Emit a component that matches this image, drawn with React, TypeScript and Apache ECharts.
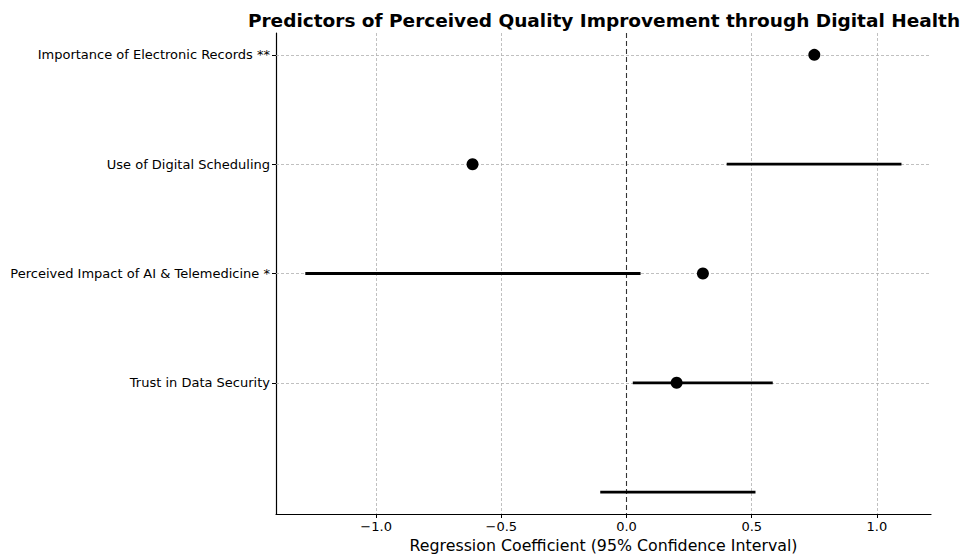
import React, { useEffect, useRef } from "react";
import * as echarts from "echarts";

const predictors = [
  "Importance of Electronic Records **",
  "Use of Digital Scheduling",
  "Perceived Impact of AI & Telemedicine *",
  "Trust in Data Security",
];
const coefficients = [0.75, -0.615, 0.305, 0.2];
const ciLower = [0.4, -1.283, 0.025, -0.105];
const ciUpper = [1.098, 0.056, 0.584, 0.515];
// in the original figure the CI bars are drawn one row below their point
const ciRowOffset = 1;
const xTicks = [-1.0, -0.5, 0.0, 0.5, 1.0];
const rowTicks = [0, 1, 2, 3];
const xMin = -1.4;
const xMax = 1.216;
const yMin = -0.2;
const yMax = 4.2;

const FONT = "DejaVu Sans";

export default function App() {
  const ref = useRef<HTMLDivElement>(null);
  useEffect(() => {
    if (!ref.current) return;
    const chart = echarts.init(ref.current, null, { renderer: "svg" });
    const gridColor = "#b0b0b0";
    chart.setOption({
      animation: false,
      backgroundColor: "#ffffff",
      textStyle: { fontFamily: FONT },
      title: {
        text: "Predictors of Perceived Quality Improvement through Digital Health",
        left: 599,
        textAlign: "center",
        top: 6,
        textStyle: { fontFamily: FONT, fontWeight: "bold", fontSize: 18.5, color: "#000" },
      },
      grid: {
        left: 276,
        right: 36,
        top: 33,
        bottom: 41,
        containLabel: false,
        outerBoundsMode: "none",
      },
      xAxis: {
        type: "value",
        min: xMin,
        max: xMax,
        name: "Regression Coefficient (95% Confidence Interval)",
        nameLocation: "middle",
        nameGap: 21,
        nameTextStyle: { fontFamily: FONT, fontSize: 15.8, color: "#000" },
        axisLine: { show: true, onZero: false, lineStyle: { color: "#000", width: 1.2 } },
        axisTick: { show: true, customValues: xTicks, length: 4, lineStyle: { color: "#000" } },
        axisLabel: {
          customValues: xTicks,
          fontFamily: FONT,
          fontSize: 13,
          color: "#000",
          margin: 6,
          formatter: (v: number) => (v < 0 ? "\u2212" : "") + Math.abs(v).toFixed(1),
        },
        splitLine: { show: false },
      },
      yAxis: {
        type: "value",
        inverse: true,
        min: yMin,
        max: yMax,
        axisLine: { show: true, onZero: false, lineStyle: { color: "#000", width: 1.2 } },
        axisTick: { show: true, customValues: rowTicks, length: 4, lineStyle: { color: "#000" } },
        axisLabel: {
          customValues: rowTicks,
          fontFamily: FONT,
          fontSize: 13,
          color: "#000",
          margin: 6,
          formatter: (v: number) => predictors[Math.round(v)] ?? "",
        },
        splitLine: { show: false },
      },
      series: [
        {
          type: "line",
          data: [],
          z: 1,
          silent: true,
          markLine: {
            z: 1,
            silent: true,
            symbol: "none",
            label: { show: false },
            animation: false,
            lineStyle: { color: gridColor, type: [3, 2], width: 0.8 },
            data: [
              ...rowTicks.map((r) => ({ yAxis: r })),
              ...xTicks.filter((v) => v !== 0).map((v) => ({ xAxis: v })),
              { xAxis: 0, lineStyle: { color: "#333", type: [5, 3], width: 1.1 } },
            ],
          },
        },
        {
          type: "custom",
          z: 10,
          data: ciLower.map((lo, i) => [lo, ciUpper[i], i + ciRowOffset]),
          renderItem: (params: any, api: any) => {
            const p1 = api.coord([api.value(0), api.value(2)]);
            const p2 = api.coord([api.value(1), api.value(2)]);
            return {
              type: "line",
              shape: { x1: p1[0], y1: p1[1], x2: p2[0], y2: p2[1] },
              style: { stroke: "#000", lineWidth: 2.8 },
            };
          },
          encode: { x: [0, 1], y: 2 },
        },
        {
          type: "scatter",
          z: 11,
          symbol: "circle",
          symbolSize: 12,
          itemStyle: { color: "#000", opacity: 1 },
          data: coefficients.map((c, i) => [c, i]),
        },
      ],
    });
    return () => chart.dispose();
  }, []);
  return (
    <div
      ref={ref}
      style={{ position: "fixed", left: 0, top: 0, width: 967, height: 555 }}
    />
  );
}
